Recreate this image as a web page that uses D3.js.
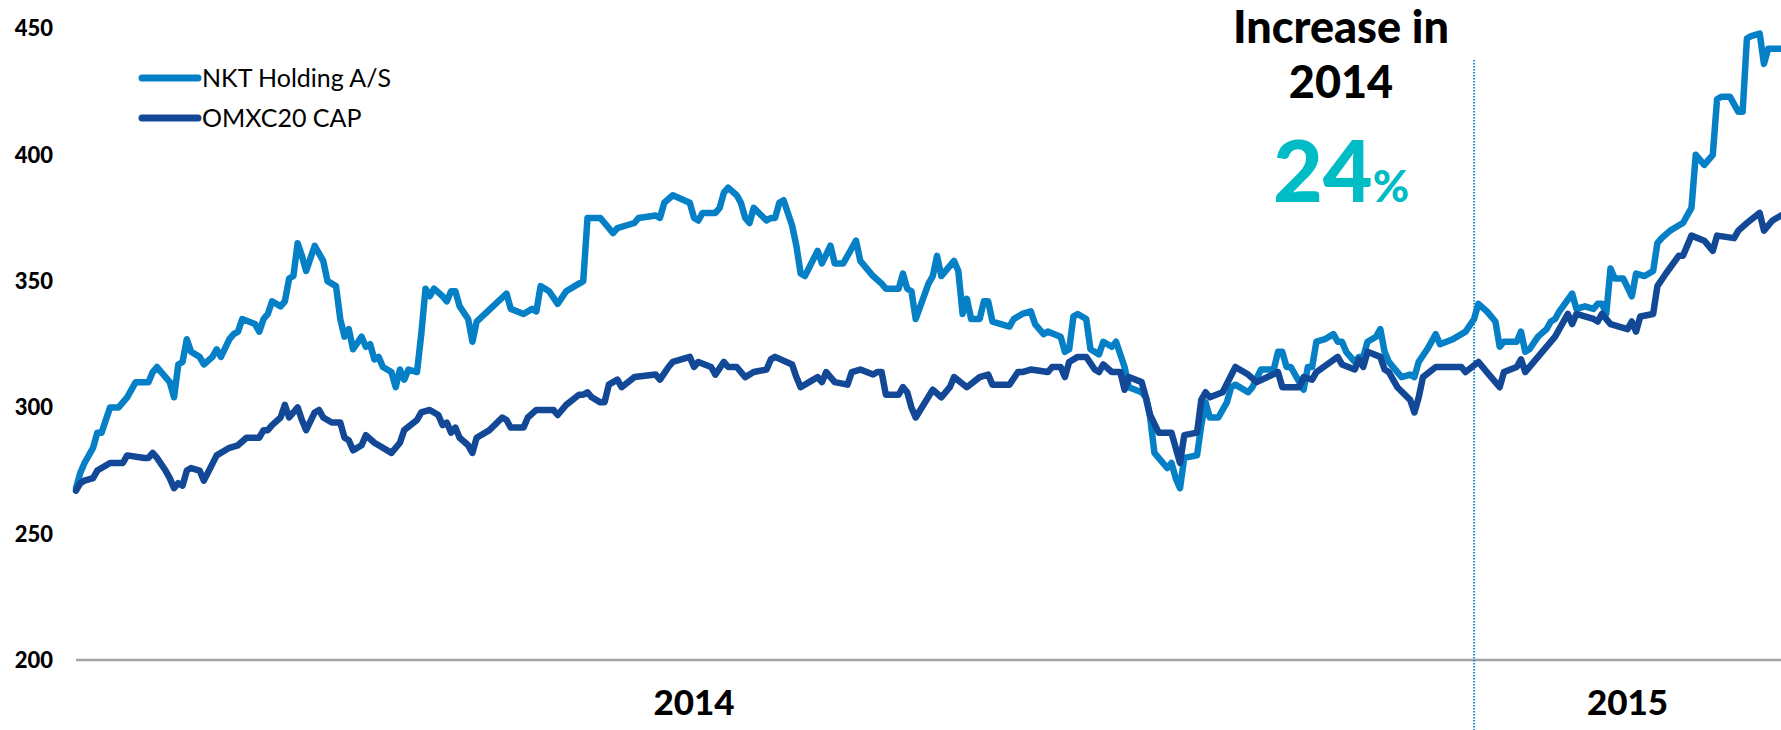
<!DOCTYPE html>
<html>
<head>
<meta charset="utf-8">
<script src="https://cdn.jsdelivr.net/npm/d3@7"></script>
<style>
    body { margin: 0; background: #fff; }
    svg { display: block; font-family: Lato, "Open Sans", sans-serif; }
</style>
</head>
<body>
<svg id="chart" width="1781" height="730"></svg>
<script>
// Data: [days since first point, index value]
const startDate = new Date(2014, 1, 7)
const endDate = new Date(2015, 2, 14)

const nktPoints = [
    [0, 268], [1, 274], [2, 278], [4, 284], [5, 290], [6, 290], [8, 300], [10, 300], [12, 304], [14, 310],
    [17, 310], [18, 314], [19, 316], [20, 314], [22, 310], [23, 304], [24, 317], [25, 318], [26, 327], [27, 322],
    [29, 320], [30, 317], [32, 320], [33, 323], [34, 320], [36, 327], [37, 329], [38, 330], [39, 335], [42, 333],
    [43, 330], [44, 335], [45, 337], [46, 342], [48, 340], [49, 342], [50, 351], [51, 352], [52, 365], [53, 360],
    [54, 354], [56, 364], [58, 358], [59, 350], [61, 348], [62, 335], [63, 328], [64, 331], [65, 323], [67, 328],
    [68, 324], [69, 325], [70, 319], [71, 320], [72, 316], [74, 314], [75, 308], [76, 315], [77, 311], [78, 315],
    [80, 314], [81, 329], [82, 347], [83, 344], [84, 347], [86, 344], [87, 342], [88, 346], [89, 346], [90, 340],
    [92, 335], [93, 326], [94, 334], [101, 345], [102, 339], [105, 337], [107, 339], [108, 338], [109, 348], [111, 346],
    [113, 341], [115, 346], [117, 348], [119, 350], [120, 375], [123, 375], [124, 373], [126, 369], [127, 371], [131, 373],
    [132, 375], [136, 376], [137, 375], [138, 381], [140, 384], [144, 381], [145, 375], [146, 374], [147, 377], [150, 377],
    [151, 379], [152, 385], [153, 387], [155, 384], [156, 381], [157, 375], [158, 373], [159, 379], [162, 374], [163, 375],
    [164, 375], [165, 381], [166, 382], [168, 372], [169, 364], [170, 353], [171, 352], [174, 362], [175, 357], [177, 364],
    [178, 357], [180, 357], [182, 363], [183, 366], [184, 358], [187, 352], [189, 349], [190, 347], [193, 347], [194, 353],
    [195, 347], [196, 346], [197, 335], [200, 349], [201, 352], [202, 360], [203, 352], [206, 358], [207, 354], [208, 337],
    [209, 343], [210, 335], [212, 335], [213, 342], [214, 342], [215, 334], [219, 332], [220, 335], [222, 337], [224, 338],
    [225, 333], [227, 329], [228, 330], [231, 328], [232, 322], [233, 323], [234, 336], [235, 337], [237, 335], [238, 323],
    [240, 321], [241, 326], [243, 324], [244, 326], [246, 316], [247, 308], [250, 306], [251, 304], [252, 296], [253, 282],
    [256, 276], [257, 278], [258, 272], [259, 268], [260, 280], [263, 281], [264, 293], [265, 302], [266, 296], [268, 296],
    [270, 302], [271, 308], [272, 309], [275, 306], [276, 308], [278, 315], [281, 315], [282, 322], [283, 322], [284, 316],
    [285, 316], [287, 310], [288, 307], [289, 316], [290, 316], [291, 326], [293, 327], [295, 329], [296, 326], [297, 326],
    [298, 322], [300, 318], [301, 320], [302, 320], [303, 326], [305, 328], [306, 331], [307, 322], [308, 318], [310, 314],
    [311, 312], [313, 313], [314, 312], [315, 318], [317, 323], [319, 329], [320, 325], [323, 327], [326, 330], [328, 335],
    [329, 341], [331, 338], [333, 334], [334, 324], [335, 326], [338, 326], [339, 330], [340, 322], [341, 323], [343, 328],
    [345, 331], [346, 334], [347, 335], [348, 338], [351, 345], [352, 339], [354, 340], [356, 339], [357, 341], [358, 341],
    [359, 337], [360, 355], [361, 351], [363, 351], [365, 344], [366, 353], [368, 352], [370, 354], [371, 365], [372, 367],
    [374, 370], [375, 371], [377, 373], [378, 376], [379, 379], [380, 400], [381, 398], [382, 396], [384, 400], [385, 422],
    [386, 423], [388, 423], [390, 417], [391, 417], [392, 446], [393, 447], [395, 448], [396, 436], [397, 442], [400, 442]
]

const omxPoints = [
    [0, 267], [1, 270], [2, 271], [4, 272], [5, 275], [8, 278], [11, 278], [12, 281], [16, 280], [17, 280],
    [18, 282], [19, 280], [21, 275], [22, 272], [23, 268], [24, 270], [25, 269], [26, 275], [27, 276], [29, 275],
    [30, 271], [33, 281], [36, 284], [38, 285], [40, 288], [42, 288], [43, 288], [44, 291], [45, 291], [46, 293],
    [48, 296], [49, 301], [50, 296], [52, 300], [53, 295], [54, 291], [56, 298], [57, 299], [58, 296], [60, 294],
    [62, 294], [63, 288], [64, 287], [65, 283], [67, 285], [68, 289], [70, 286], [74, 282], [76, 286], [77, 291],
    [80, 295], [81, 298], [83, 299], [85, 297], [86, 293], [87, 294], [88, 290], [89, 292], [90, 288], [92, 285],
    [93, 282], [94, 288], [97, 291], [100, 296], [101, 295], [102, 292], [105, 292], [106, 296], [108, 299], [112, 299],
    [113, 297], [115, 301], [118, 305], [119, 305], [120, 306], [121, 304], [123, 302], [124, 302], [125, 309], [127, 311],
    [128, 308], [131, 312], [136, 313], [137, 311], [139, 316], [140, 318], [144, 320], [145, 316], [146, 318], [149, 316],
    [150, 313], [152, 318], [153, 316], [155, 316], [157, 312], [159, 314], [162, 315], [163, 319], [164, 320], [168, 317],
    [169, 312], [170, 308], [172, 310], [174, 312], [175, 310], [176, 314], [178, 310], [181, 309], [182, 314], [184, 315],
    [187, 313], [188, 314], [189, 314], [190, 305], [193, 305], [194, 308], [195, 306], [196, 300], [197, 296], [201, 307],
    [203, 304], [205, 308], [206, 312], [209, 308], [212, 312], [214, 313], [215, 309], [219, 309], [221, 314], [222, 314],
    [224, 315], [228, 314], [229, 316], [231, 316], [232, 312], [233, 318], [235, 320], [237, 320], [239, 315], [240, 314],
    [241, 317], [243, 314], [245, 314], [246, 307], [247, 312], [250, 310], [251, 304], [252, 297], [254, 290], [257, 290],
    [258, 284], [259, 278], [260, 289], [263, 290], [264, 303], [265, 306], [266, 304], [269, 306], [272, 316], [275, 313],
    [277, 310], [282, 314], [283, 308], [285, 308], [287, 308], [288, 312], [290, 311], [291, 314], [296, 320], [297, 317],
    [300, 315], [301, 319], [302, 316], [303, 322], [306, 320], [307, 315], [308, 314], [310, 308], [313, 303], [314, 298],
    [315, 304], [316, 312], [319, 316], [325, 316], [326, 314], [329, 318], [331, 314], [334, 308], [335, 314], [338, 316],
    [339, 319], [340, 314], [342, 318], [347, 328], [350, 337], [351, 333], [352, 337], [356, 335], [357, 334], [358, 337],
    [360, 333], [364, 331], [365, 334], [366, 330], [367, 336], [370, 337], [371, 348], [373, 353], [376, 360], [377, 360],
    [379, 368], [382, 366], [384, 362], [385, 368], [389, 367], [390, 370], [392, 373], [395, 377], [396, 370], [398, 374],
    [400, 376]
]

const yTicks = [200, 250, 300, 350, 400, 450]
const yearLabels = [
    { label: '2014', date: new Date(2014, 6, 2) },
    { label: '2015', date: new Date(2015, 1, 6) }
]
const yearStart = new Date(2015, 0, 1)

const series = [
    { name: 'NKT Holding A/S', color: '#0580c6', points: nktPoints },
    { name: 'OMXC20 CAP', color: '#124896', points: omxPoints }
]

const svg = d3.select('#chart')

let xScale = d3.scaleTime().domain([startDate, endDate]).range([76, 1781]),
    yScale = d3.scaleLinear().domain([200, 450]).range([660, 28.5])

// baseline at 200
svg.append('line')
    .attr('x1', xScale(startDate))
    .attr('x2', xScale(endDate))
    .attr('y1', yScale(200))
    .attr('y2', yScale(200))
    .attr('stroke', '#a3a3a3')
    .attr('stroke-width', 2.5)

// y tick labels
svg.append('g')
    .selectAll('text')
    .data(yTicks)
    .enter()
    .append('text')
    .attr('x', 53)
    .attr('y', d => yScale(d))
    .attr('dy', '0.36em')
    .attr('text-anchor', 'end')
    .style('font-size', '22px')
    .style('font-weight', 900)
    .text(d => d)

// year labels
svg.append('g')
    .selectAll('text')
    .data(yearLabels)
    .enter()
    .append('text')
    .attr('x', d => xScale(d.date))
    .attr('y', 715)
    .attr('text-anchor', 'middle')
    .style('font-size', '35px')
    .style('font-weight', 900)
    .text(d => d.label)

// dotted year divider
svg.append('line')
    .attr('x1', xScale(yearStart))
    .attr('x2', xScale(yearStart))
    .attr('y1', 60)
    .attr('y2', 730)
    .attr('stroke', '#1d8fd6')
    .attr('stroke-width', 2)
    .attr('stroke-dasharray', '1.5,1.5')

// lines
let line = d3.line()
    .x(d => xScale(d3.timeDay.offset(startDate, d[0])))
    .y(d => yScale(d[1]))

svg.append('g')
    .selectAll('path')
    .data(series)
    .enter()
    .append('path')
    .attr('d', d => line(d.points))
    .attr('fill', 'none')
    .attr('stroke', d => d.color)
    .attr('stroke-width', 6.5)
    .attr('stroke-linejoin', 'round')
    .attr('stroke-linecap', 'round')

// legend
let legend = svg.append('g')
    .selectAll('g')
    .data(series)
    .enter()
    .append('g')
    .attr('transform', (d, i) => `translate(142, ${78 + i * 40})`)

legend.append('line')
    .attr('x1', 0)
    .attr('x2', 56)
    .attr('stroke', d => d.color)
    .attr('stroke-width', 7)
    .attr('stroke-linecap', 'round')

legend.append('text')
    .attr('x', 60)
    .attr('dy', '0.36em')
    .style('font-size', '25px')
    .text(d => d.name)

// annotation
let note = svg.append('g')
    .attr('text-anchor', 'middle')
    .style('font-weight', 900)

note.append('text')
    .attr('x', 1341)
    .attr('y', 43)
    .style('font-size', '45px')
    .text('Increase in')

note.append('text')
    .attr('x', 1341)
    .attr('y', 98)
    .style('font-size', '45px')
    .text('2014')

let pct = note.append('text')
    .attr('x', 1341)
    .attr('y', 202)
    .attr('fill', '#00bcc4')

pct.append('tspan').style('font-size', '86px').text('24')
pct.append('tspan').style('font-size', '44px').text('%')
</script>
</body>
</html>
